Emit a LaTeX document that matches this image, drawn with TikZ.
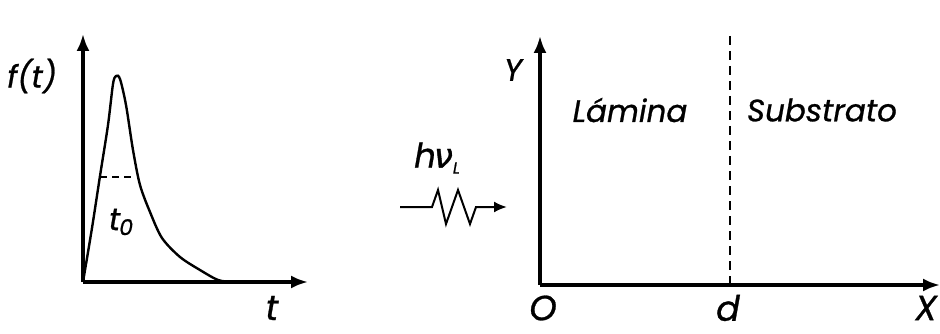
\documentclass[tikz,border=0pt]{standalone}
\usepackage{fontspec}
\setmainfont{Poppins}[FakeBold=0.8]
\newfontfamily\gkfont{DejaVu Sans}[FakeBold=1.2]
\usetikzlibrary{arrows.meta}
\begin{document}
\begin{tikzpicture}[x=1pt,y=-1pt,
  axis/.style={line width=3.2pt,-{Latex[length=17pt,width=13pt]}},
  lbl/.style={font=\fontsize{31}{31}\selectfont\itshape,inner sep=0pt},
  biglbl/.style={font=\fontsize{35}{35}\selectfont\itshape,inner sep=0pt},
  curve/.style={line width=2.4pt}]
\useasboundingbox (0,0) rectangle (940,334);
% left plot
\coordinate (o1) at (83,282);
\coordinate (ytop1) at (83,34);
\coordinate (xend1) at (308,282);
\draw[axis] (o1) -- (ytop1);
\draw[axis] (o1) -- (xend1);
\draw[curve] plot[smooth,tension=0.5] coordinates {(83,282) (92,228) (100,176) (108,125) (113,84) (116,76) (120,79) (126,105) (133,150) (140,185) (150,212) (162,238) (180,257) (200,270) (218,280) (232,282)};
\coordinate (dl) at (100,177);
\coordinate (dr) at (136,177);
\draw[line width=1.8pt,dash pattern=on 7pt off 5pt] (dl) -- (dr);
\node[lbl] (ft) at (32,76) {f(t)};
\node[lbl] (t0) at (121,222) {t\kern-1pt\raisebox{-5pt}{\fontsize{22}{22}\selectfont 0}};
\node[biglbl] (tl) at (272,308) {t};
% photon
\node[font=\fontsize{34}{34}\selectfont\itshape,inner sep=0pt] (hv) at (437,158) {h\kern-2pt{\gkfont\itshape ν}\raisebox{-6pt}{\fontsize{16}{16}\selectfont L}};
\coordinate (w0) at (400,207);
\coordinate (w1) at (507,207);
\draw[line width=2pt,-{Latex[length=13pt,width=11pt]}] (w0) -- (432,207) -- (438,190) -- (446,224) -- (458,190) -- (470,224) -- (476,207) -- (w1);
% right plot
\coordinate (o2) at (540,285);
\coordinate (ytop2) at (540,36);
\coordinate (xend2) at (940,285);
\draw[axis] (o2) -- (ytop2);
\draw[axis] (o2) -- (xend2);
\coordinate (dtop) at (730,36);
\coordinate (dbot) at (730,285);
\draw[line width=2pt,dash pattern=on 9pt off 6pt] (dtop) -- (dbot);
\node[lbl] (Y) at (513,70) {Y};
\node[lbl] (lam) at (630,110) {Lámina};
\node[lbl] (sub) at (822,110) {Substrato};
\node[biglbl] (O) at (543,308) {O};
\node[biglbl] (d) at (728,308) {d};
\node[biglbl] (X) at (926,308) {X};
\end{tikzpicture}
\end{document}
